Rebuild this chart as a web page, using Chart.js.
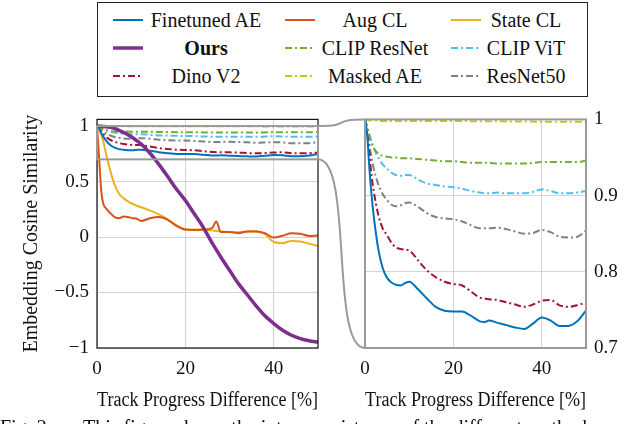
<!DOCTYPE html>
<html>
<head>
<meta charset="utf-8">
<script src="https://cdn.jsdelivr.net/npm/chart.js@4/dist/chart.umd.min.js"></script>
<style>
  body { margin: 0; width: 640px; height: 424px; overflow: hidden; background: #fff; position: relative;
         font-family: 'Liberation Serif', 'DejaVu Serif', serif; color: #111; }
  canvas { position: absolute; }
  #legend { position: absolute; left: 97px; top: 2px; width: 489px; height: 93px; border: 1.3px solid #222; }
  .item { position: absolute; display: flex; align-items: center; height: 28px; font-size: 20px; }
  .item span { text-align: center; white-space: nowrap; }
  #caption { position: absolute; left: 0; top: 415px; width: 640px; font-size: 20px; line-height: 24px; white-space: nowrap; }
</style>
</head>
<body>
<div id="legend"></div>
<canvas id="left" width="330" height="320" style="left:0;top:100px"></canvas>
<canvas id="right" width="340" height="320" style="left:300px;top:100px"></canvas>
<div id="caption"><span>Fig. 2.</span><span style="position:absolute;left:83px">This figure shows the intra-consistency of the different methods</span></div>
<script>
// x positions shared by every curve (track progress difference in %)
const progress = [0, 0.5, 1, 1.5, 2, 3, 4, 5, 6, 7, 8, 9, 10, 12, 14, 16, 18, 20, 22, 24, 26, 27, 28, 30, 32, 34, 36, 38, 40, 42, 44, 46, 48, 50];

// cosine similarity per method
const finetunedAE = [1.0, 0.98, 0.935, 0.9, 0.872, 0.83, 0.805, 0.792, 0.786, 0.783, 0.782, 0.785, 0.787, 0.777, 0.765, 0.754, 0.749, 0.748, 0.748, 0.742, 0.735, 0.734, 0.736, 0.733, 0.730, 0.727, 0.725, 0.732, 0.740, 0.736, 0.729, 0.729, 0.735, 0.749];
const augCL = [1.0, 0.7, 0.4, 0.29, 0.26, 0.215, 0.18, 0.17, 0.185, 0.18, 0.17, 0.165, 0.145, 0.17, 0.18, 0.155, 0.10, 0.068, 0.064, 0.066, 0.08, 0.14, 0.045, 0.045, 0.035, 0.05, 0.05, 0.035, -0.005, 0.012, 0.035, 0.03, 0.01, 0.013];
const stateCL = [1.0, 0.96, 0.92, 0.85, 0.76, 0.60, 0.47, 0.39, 0.35, 0.322, 0.30, 0.282, 0.268, 0.238, 0.205, 0.16, 0.105, 0.065, 0.068, 0.07, 0.06, 0.055, 0.05, 0.045, 0.042, 0.05, 0.052, 0.025, -0.045, -0.055, -0.035, -0.04, -0.06, -0.08];
const ours = [1.0, 0.999, 0.998, 0.996, 0.994, 0.988, 0.978, 0.962, 0.943, 0.922, 0.897, 0.868, 0.838, 0.755, 0.655, 0.545, 0.43, 0.33, 0.21, 0.09, -0.05, -0.115, -0.18, -0.30, -0.42, -0.52, -0.62, -0.71, -0.78, -0.84, -0.885, -0.915, -0.935, -0.948];
const clipResNet = [1.0, 0.99, 0.978, 0.968, 0.962, 0.955, 0.952, 0.951, 0.950, 0.950, 0.949, 0.949, 0.949, 0.948, 0.947, 0.946, 0.945, 0.945, 0.944, 0.943, 0.943, 0.943, 0.943, 0.942, 0.942, 0.942, 0.942, 0.943, 0.944, 0.944, 0.944, 0.944, 0.944, 0.946];
const clipViT = [1.0, 0.99, 0.98, 0.97, 0.962, 0.95, 0.941, 0.935, 0.930, 0.927, 0.926, 0.927, 0.927, 0.921, 0.916, 0.914, 0.912, 0.911, 0.909, 0.906, 0.904, 0.903, 0.903, 0.904, 0.903, 0.903, 0.903, 0.905, 0.908, 0.906, 0.903, 0.903, 0.904, 0.906];
const dinoV2 = [1.0, 0.985, 0.955, 0.925, 0.905, 0.875, 0.857, 0.848, 0.838, 0.832, 0.830, 0.829, 0.828, 0.815, 0.802, 0.793, 0.787, 0.784, 0.782, 0.774, 0.766, 0.765, 0.764, 0.763, 0.760, 0.757, 0.754, 0.757, 0.762, 0.763, 0.756, 0.754, 0.756, 0.760];
const maskedAE = [1.0, 0.9995, 0.999, 0.999, 0.999, 0.9985, 0.998, 0.998, 0.998, 0.998, 0.998, 0.998, 0.998, 0.998, 0.998, 0.998, 0.998, 0.998, 0.9978, 0.9977, 0.9976, 0.9975, 0.9975, 0.9975, 0.9974, 0.9973, 0.9972, 0.9971, 0.997, 0.997, 0.997, 0.997, 0.997, 0.997];
const resNet50 = [1.0, 0.985, 0.965, 0.95, 0.935, 0.915, 0.902, 0.894, 0.888, 0.886, 0.887, 0.890, 0.891, 0.885, 0.877, 0.872, 0.870, 0.869, 0.866, 0.861, 0.857, 0.857, 0.857, 0.858, 0.856, 0.853, 0.850, 0.851, 0.855, 0.852, 0.846, 0.845, 0.846, 0.854];

// tick labels
const xTicks = [0, 20, 40];
const leftYTicks = [-1, -0.5, 0, 0.5, 1];
const rightYTicks = [0.7, 0.8, 0.9, 1];

const DASHDOT = [7, 3, 2, 3];
const methods = [
  { label: 'Finetuned AE', values: finetunedAE, color: '#0072bd', dash: [], width: 2, inZoom: true },
  { label: 'Aug CL', values: augCL, color: '#d95319', dash: [], width: 2, inZoom: false },
  { label: 'State CL', values: stateCL, color: '#edb120', dash: [], width: 2, inZoom: false },
  { label: 'Ours', values: ours, color: '#7e2f8e', dash: [], width: 3.5, inZoom: false, bold: true },
  { label: 'CLIP ResNet', values: clipResNet, color: '#77ac30', dash: DASHDOT, width: 2, inZoom: true },
  { label: 'CLIP ViT', values: clipViT, color: '#4dbeee', dash: DASHDOT, width: 2, inZoom: true },
  { label: 'Dino V2', values: dinoV2, color: '#a2142f', dash: DASHDOT, width: 2, inZoom: true },
  { label: 'Masked AE', values: maskedAE, color: '#c8c800', dash: DASHDOT, width: 2, inZoom: true },
  { label: 'ResNet50', values: resNet50, color: '#808080', dash: DASHDOT, width: 2, inZoom: true }
];

const FONT = 'Liberation Serif';
const GRID = '#d4d4d4';
const ZOOMGREY = '#9a9a9a';

// legend (html, three columns)
const legend = document.getElementById('legend');
const colLeft = [113, 285, 451], textW = [126, 120, 90], rowMid = [20, 48, 76];
methods.forEach((m, i) => {
  const c = i % 3, r = Math.floor(i / 3);
  const el = document.createElement('div');
  el.className = 'item';
  el.style.left = (colLeft[c] - 98) + 'px';
  el.style.top = (rowMid[r] - 14 - 3) + 'px';
  const dash = m.dash.length ? `stroke-dasharray="${m.dash.join(' ')}"` : '';
  el.innerHTML = `<svg width="30" height="10"><line x1="0" y1="5" x2="30" y2="5" stroke="${m.color}" stroke-width="${m.width}" ${dash}/></svg>` +
    `<span style="width:${textW[c]}px;${m.bold ? 'font-weight:bold' : ''}">${m.label}</span>`;
  legend.appendChild(el);
});

function makeDatasets(list) {
  return list.map(m => ({
    label: m.label,
    data: progress.map((x, i) => ({ x: x, y: m.values[i] })),
    borderColor: m.color,
    borderWidth: m.width,
    borderDash: m.dash,
    pointRadius: 0,
    fill: false,
    cubicInterpolationMode: 'monotone',
    order: m.label === 'Ours' ? -1 : 0
  }));
}

const tickFmt = v => String(v).replace('-', '\u2212');

const framePlugin = {
  id: 'frame',
  afterDatasetsDraw(chart, args, opts) {
    const { ctx, chartArea: a } = chart;
    ctx.save();
    ctx.strokeStyle = opts.color;
    ctx.lineWidth = opts.width;
    ctx.strokeRect(a.left, a.top, a.right - a.left, a.bottom - a.top);
    if (opts.zoomBox) {
      const x = chart.scales.x, y = chart.scales.y;
      const x0 = x.getPixelForValue(0), x1 = x.getPixelForValue(50);
      const y0 = y.getPixelForValue(1), y1 = y.getPixelForValue(0.7);
      ctx.strokeStyle = ZOOMGREY;
      ctx.lineWidth = 2;
      ctx.strokeRect(x0, y0, x1 - x0, y1 - y0);
    }
    ctx.restore();
  }
};

function baseOptions(yTicks, yMin, yMax, yPos, pad, yWidth, frame) {
  return {
    responsive: false,
    animation: false,
    layout: { padding: pad },
    plugins: { legend: { display: false }, tooltip: { enabled: false }, frame: frame },
    scales: {
      x: {
        type: 'linear', min: 0, max: 50,
        afterBuildTicks: s => { s.ticks = xTicks.map(v => ({ value: v })); },
        afterFit: s => { s.height = 72; },
        grid: { color: GRID, drawTicks: false },
        border: { display: false },
        ticks: { color: '#111', padding: 10, font: { family: FONT, size: 19 }, maxRotation: 0 },
        title: { display: true, text: 'Track Progress Difference [%]', color: '#111', padding: { top: 0, bottom: 7 }, font: { family: FONT, size: 20 } }
      },
      y: {
        type: 'linear', min: yMin, max: yMax, position: yPos,
        afterBuildTicks: s => { s.ticks = yTicks.map(v => ({ value: v })); },
        afterFit: s => { s.width = yWidth; },
        grid: { color: GRID, drawTicks: false },
        border: { display: false },
        ticks: { color: '#111', padding: 8, callback: tickFmt, font: { family: FONT, size: 19 } }
      }
    }
  };
}

// left panel: full range
const leftOpts = baseOptions(leftYTicks, -1, 1.06, 'left', { top: 8, right: 12, left: 0, bottom: 0 }, 97,
  { color: '#111', width: 1.2, zoomBox: true });
leftOpts.scales.y.title = { display: true, text: 'Embedding Cosine Similarity', color: '#111', padding: { top: 20, bottom: 0 }, font: { family: FONT, size: 20 } };
const leftChart = new Chart(document.getElementById('left'), {
  type: 'line',
  data: { datasets: makeDatasets(methods) },
  options: leftOpts,
  plugins: [framePlugin]
});

// connector curves from zoom box to the right panel
const connectorPlugin = {
  id: 'connector',
  afterDraw(chart) {
    const { ctx, chartArea: a } = chart;
    const shift = 0 - 300; // left canvas offset minus right canvas offset
    const la = leftChart.chartArea;
    const sx = la.right + shift;
    const yTop = leftChart.scales.y.getPixelForValue(1);
    const yBot = leftChart.scales.y.getPixelForValue(0.7);
    const ex = a.left, dx = ex - sx;
    ctx.save();
    ctx.strokeStyle = ZOOMGREY;
    ctx.lineWidth = 2;
    ctx.beginPath();
    ctx.moveTo(sx, yTop);
    ctx.bezierCurveTo(sx + 0.75 * dx, yTop, sx + 0.25 * dx, a.top, ex, a.top);
    ctx.moveTo(sx, yBot);
    ctx.bezierCurveTo(sx + 0.75 * dx, yBot, sx + 0.25 * dx, a.bottom, ex, a.bottom);
    ctx.stroke();
    ctx.restore();
  }
};

// right panel: zoom on 0.7 .. 1
const rightOpts = baseOptions(rightYTicks, 0.7, 1.0, 'right', { top: 10, right: 0, left: 65, bottom: 0 }, 54,
  { color: ZOOMGREY, width: 2, zoomBox: false });
new Chart(document.getElementById('right'), {
  type: 'line',
  data: { datasets: makeDatasets(methods.filter(m => m.inZoom)) },
  options: rightOpts,
  plugins: [framePlugin, connectorPlugin]
});
</script>
</body>
</html>
